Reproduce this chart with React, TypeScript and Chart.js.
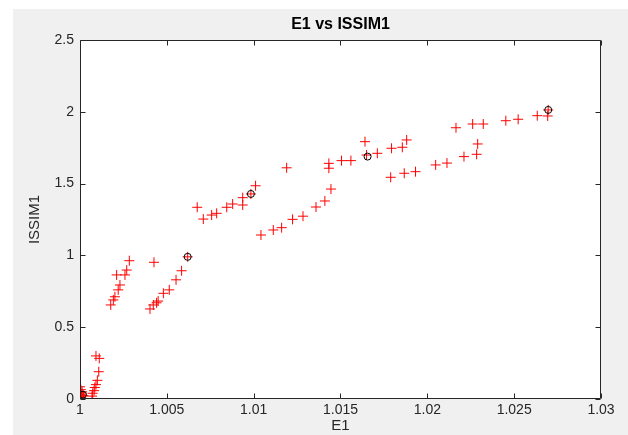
import { useEffect, useRef } from "react";
import { Chart, registerables } from "chart.js";

Chart.register(...registerables);

const e1Values = [
  1.0, 1.00005, 1.0, 1.0001, 1.00005, 1.0, 1.0002, 1.00012, 1.00003, 1.00008,
  1.00092, 1.00111, 1.00108, 1.001, 1.00092, 1.00085, 1.00081, 1.00073, 1.00069,
  1.00177, 1.00192, 1.00201, 1.0022, 1.0023, 1.00211, 1.00259, 1.00269, 1.00284, 1.00426,
  1.00403, 1.00422, 1.00441, 1.0045, 1.0048, 1.00514, 1.00553, 1.00585, 1.0062,
  1.00675, 1.0071, 1.00758, 1.00787, 1.00845, 1.00879, 1.00937, 1.00937, 1.00984, 1.01011, 1.0119,
  1.01042, 1.01113, 1.01161, 1.01224, 1.01284, 1.01359, 1.0141, 1.01445, 1.01433, 1.01433,
  1.01506, 1.0156, 1.01641, 1.0165, 1.01712, 1.01794, 1.01856, 1.01881,
  1.01789, 1.01867, 1.01932, 1.02048, 1.02113, 1.02211, 1.02284, 1.0229, 1.02165, 1.02261,
  1.02322, 1.02452, 1.02523, 1.02633, 1.02693, 1.02696,
];
const issimValues = [
  0.085, 0.065, 0.045, 0.035, 0.02, 0.01, 0.025, 0.05, 0.03, 0.015,
  0.3, 0.283, 0.19, 0.13, 0.1, 0.08, 0.058, 0.04, 0.02,
  0.655, 0.69, 0.712, 0.76, 0.794, 0.864, 0.864, 0.898, 0.963, 0.952,
  0.627, 0.655, 0.67, 0.682, 0.736, 0.76, 0.83, 0.893, 0.99,
  1.335, 1.253, 1.281, 1.293, 1.335, 1.358, 1.402, 1.351, 1.428, 1.485, 1.61,
  1.142, 1.177, 1.193, 1.251, 1.273, 1.337, 1.379, 1.462, 1.641, 1.607,
  1.66, 1.66, 1.792, 1.699, 1.711, 1.746, 1.753, 1.804,
  1.544, 1.572, 1.583, 1.63, 1.643, 1.688, 1.704, 1.776, 1.889, 1.915,
  1.915, 1.938, 1.948, 1.973, 1.971, 2.013,
];
const circleE1 = [1.00017, 1.0062, 1.00984, 1.01656, 1.02696];
const circleIssim = [0.03, 0.99, 1.428, 1.688, 2.013];

const xTickValues = [1, 1.005, 1.01, 1.015, 1.02, 1.025, 1.03];
const xTickLabels = ["1", "1.005", "1.01", "1.015", "1.02", "1.025", "1.03"];
const yTickValues = [0, 0.5, 1, 1.5, 2, 2.5];
const yTickLabels = ["0", "0.5", "1", "1.5", "2", "2.5"];

const titleText = "E1 vs ISSIM1";
const xTitle = "E1";
const yTitle = "ISSIM1";

const FONT = "'Liberation Sans', Arial, Helvetica, sans-serif";
const AXIS_COLOR = "#262626";

function lookup(values: number[], labels: string[], v: number) {
  for (let i = 0; i < values.length; i++) {
    if (Math.abs(values[i] - v) < 1e-9) return labels[i];
  }
  return "";
}

const framePlugin = {
  id: "matlabFrame",
  beforeDraw(chart: any) {
    const { ctx, chartArea } = chart;
    ctx.save();
    ctx.fillStyle = "#ffffff";
    ctx.fillRect(chartArea.left, chartArea.top, chartArea.right - chartArea.left, chartArea.bottom - chartArea.top);
    ctx.restore();
  },
  afterDraw(chart: any) {
    const { ctx, chartArea } = chart;
    const xs = chart.scales.x;
    const ys = chart.scales.y;
    const L = Math.round(chartArea.left) + 0.5;
    const R = Math.round(chartArea.right) - 0.5;
    const T = Math.round(chartArea.top) + 0.5;
    const B = Math.round(chartArea.bottom) - 0.5;
    ctx.save();
    ctx.strokeStyle = AXIS_COLOR;
    ctx.lineWidth = 1;
    ctx.beginPath();
    ctx.rect(L, T, R - L, B - T);
    const tl = 5;
    xTickValues.forEach((v) => {
      const px = Math.round(xs.getPixelForValue(v)) + 0.5;
      ctx.moveTo(px, B);
      ctx.lineTo(px, B - tl);
      ctx.moveTo(px, T);
      ctx.lineTo(px, T + tl);
    });
    yTickValues.forEach((v) => {
      const py = Math.round(ys.getPixelForValue(v)) + 0.5;
      ctx.moveTo(L, py);
      ctx.lineTo(L + tl, py);
      ctx.moveTo(R, py);
      ctx.lineTo(R - tl, py);
    });
    ctx.stroke();

    const cx = (chartArea.left + chartArea.right) / 2;
    const cy = (chartArea.top + chartArea.bottom) / 2;
    ctx.textAlign = "center";
    ctx.textBaseline = "middle";
    ctx.fillStyle = "#000000";
    ctx.font = `bold 16px ${FONT}`;
    ctx.fillText(titleText, cx, 25);
    ctx.fillStyle = AXIS_COLOR;
    ctx.font = `15px ${FONT}`;
    ctx.fillText(xTitle, cx, 426);
    ctx.translate(35, cy);
    ctx.rotate(-Math.PI / 2);
    ctx.fillText(yTitle, 0, 0);
    ctx.restore();
  },
};

export default function App() {
  const canvasRef = useRef<HTMLCanvasElement | null>(null);

  useEffect(() => {
    if (!canvasRef.current) return;
    const points = e1Values.map((x, i) => ({ x, y: issimValues[i] }));
    const circles = circleE1.map((x, i) => ({ x, y: circleIssim[i] }));
    const chart = new Chart(canvasRef.current, {
      type: "scatter",
      data: {
        datasets: [
          {
            data: circles,
            pointStyle: "circle",
            pointRadius: 3.5,
            pointBorderWidth: 1,
            borderColor: "#000000",
            backgroundColor: "rgba(0,0,0,0)",
            pointBackgroundColor: "rgba(0,0,0,0)",
            pointBorderColor: "#000000",
          } as any,
          {
            data: points,
            pointStyle: "cross",
            pointRadius: 5,
            pointBorderWidth: 1,
            borderColor: "#ff0000",
            pointBorderColor: "#ff0000",
            backgroundColor: "#ff0000",
          } as any,
        ],
      },
      options: {
        animation: false,
        responsive: false,
        maintainAspectRatio: false,
        events: [],
        layout: { padding: { left: 0, right: 27, top: 40, bottom: 0 } },
        plugins: {
          legend: { display: false },
          tooltip: { enabled: false },
          title: { display: false },
        },
        scales: {
          x: {
            type: "linear",
            position: "bottom",
            min: 1,
            max: 1.03,
            grid: { display: false, drawTicks: false },
            border: { display: false },
            afterBuildTicks: (s: any) => {
              s.ticks = xTickValues.map((value) => ({ value }));
            },
            afterFit: (s: any) => {
              s.height = 36;
            },
            ticks: {
              padding: 3,
              color: AXIS_COLOR,
              font: { size: 14, family: FONT },
              maxRotation: 0,
              autoSkip: false,
              callback: (v: any) => lookup(xTickValues, xTickLabels, Number(v)),
            },
          },
          y: {
            type: "linear",
            position: "left",
            min: 0,
            max: 2.5,
            grid: { display: false, drawTicks: false },
            border: { display: false },
            afterBuildTicks: (s: any) => {
              s.ticks = yTickValues.map((value) => ({ value }));
            },
            afterFit: (s: any) => {
              s.width = 80;
            },
            ticks: {
              padding: 6,
              color: AXIS_COLOR,
              font: { size: 14, family: FONT },
              autoSkip: false,
              callback: (v: any) => lookup(yTickValues, yTickLabels, Number(v)),
            },
          },
        },
      },
      plugins: [framePlugin],
    });
    return () => chart.destroy();
  }, []);

  return (
    <div style={{ position: "absolute", left: 0, top: 0, width: 628, height: 435, background: "#ffffff", overflow: "hidden" }}>
      <div style={{ position: "absolute", left: 13, top: 9, right: 0, bottom: 0, background: "#f0f0f0" }} />
      <canvas
        ref={canvasRef}
        width={628}
        height={435}
        style={{ position: "absolute", left: 0, top: 0, width: 628, height: 435, display: "block" }}
      />
    </div>
  );
}
